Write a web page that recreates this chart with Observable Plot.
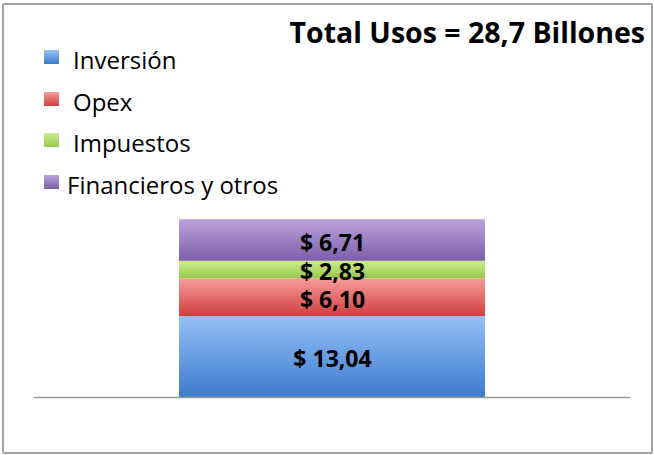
<!DOCTYPE html>
<html>
<head>
<meta charset="utf-8">
<script src="https://cdn.jsdelivr.net/npm/d3@7"></script>
<script src="https://cdn.jsdelivr.net/npm/@observablehq/plot@0.6"></script>
<style>
  html, body { margin: 0; padding: 0; background: #fff; }
  #wrap { position: relative; width: 654px; height: 455px; overflow: hidden; font-family: "Open Sans", sans-serif; }
  #frame { position: absolute; left: 2px; top: 3px; width: 647px; height: 447px; border: 2px solid #a3a3a3; border-radius: 2px; pointer-events: none; }
  #title { position: absolute; right: 9px; top: 18px; font-size: 28.5px; line-height: 28px; font-weight: 700; color: #000; white-space: nowrap; }
  .lg-row { position: absolute; left: 0; height: 24px; font-size: 24px; line-height: 24px; color: #000; white-space: nowrap; }
  .lg-sw { position: absolute; width: 15px; height: 14px; left: 44px; }
  .lg-tx { position: absolute; }
  svg { position: absolute; left: 0; top: 0; }
</style>
</head>
<body>
<div id="wrap"></div>
<script>
// ---- data ----
const categories = ["Inversión", "Opex", "Impuestos", "Financieros y otros"];
const values = [13.04, 6.10, 2.83, 6.71];
const valueLabels = ["$ 13,04", "$ 6,10", "$ 2,83", "$ 6,71"];
const titleText = "Total Usos = 28,7 Billones";
const gradTop = ["#95c0f8", "#f69c9a", "#cbee8e", "#bba4dd"];
const gradBottom = ["#3c7bcb", "#d03f3d", "#98c64c", "#7d5ea9"];

const rows = categories.map((c, i) => ({cat: c, value: values[i], label: valueLabels[i], col: "Usos"}));

const wrap = document.getElementById("wrap");

const chart = Plot.plot({
  width: 654,
  height: 455,
  marginLeft: 34,
  marginRight: 24,
  marginTop: 211,
  marginBottom: 58,
  x: {type: "band", domain: ["Usos"], padding: 0.3215, axis: null},
  y: {domain: [0, 30], axis: null},
  color: {domain: categories, range: categories.map((c, i) => `url(#grad${i})`)},
  style: {background: "transparent", overflow: "visible"},
  marks: [
    Plot.barY(rows, Plot.stackY({x: "col", y: "value", fill: "cat", order: null})),
    Plot.text(rows, Plot.stackY({x: "col", y: "value", text: "label", order: null,
      fontSize: 23, fontWeight: 700, fill: "#000", fontFamily: "Open Sans", dy: 3})),
    Plot.ruleY([0], {stroke: "#9a9a9a", strokeWidth: 1.5})
  ]
});

// gradients
const svg = d3.select(chart);
const defs = svg.insert("defs", ":first-child");
categories.forEach((c, i) => {
  const g = defs.append("linearGradient").attr("id", `grad${i}`)
    .attr("x1", 0).attr("y1", 0).attr("x2", 0).attr("y2", 1);
  g.append("stop").attr("offset", "0%").attr("stop-color", gradTop[i]);
  g.append("stop").attr("offset", "100%").attr("stop-color", gradBottom[i]);
});
wrap.appendChild(chart);

// title
const t = document.createElement("div");
t.id = "title";
t.textContent = titleText;
wrap.appendChild(t);

// legend (overlaid, top-left)
const baselines = [69, 111, 152, 194];
categories.forEach((c, i) => {
  const row = document.createElement("div");
  row.className = "lg-row";
  row.style.top = (baselines[i] - 21.3) + "px";
  const sw = document.createElement("div");
  sw.className = "lg-sw";
  sw.style.top = "2px";
  sw.style.background = `linear-gradient(${gradTop[i]}, ${gradBottom[i]})`;
  const tx = document.createElement("div");
  tx.className = "lg-tx";
  tx.style.left = (i === 3 ? 67 : 73) + "px";
  tx.textContent = c;
  row.appendChild(sw);
  row.appendChild(tx);
  wrap.appendChild(row);
});

const fr = document.createElement("div");
fr.id = "frame";
wrap.appendChild(fr);
</script>
</body>
</html>
